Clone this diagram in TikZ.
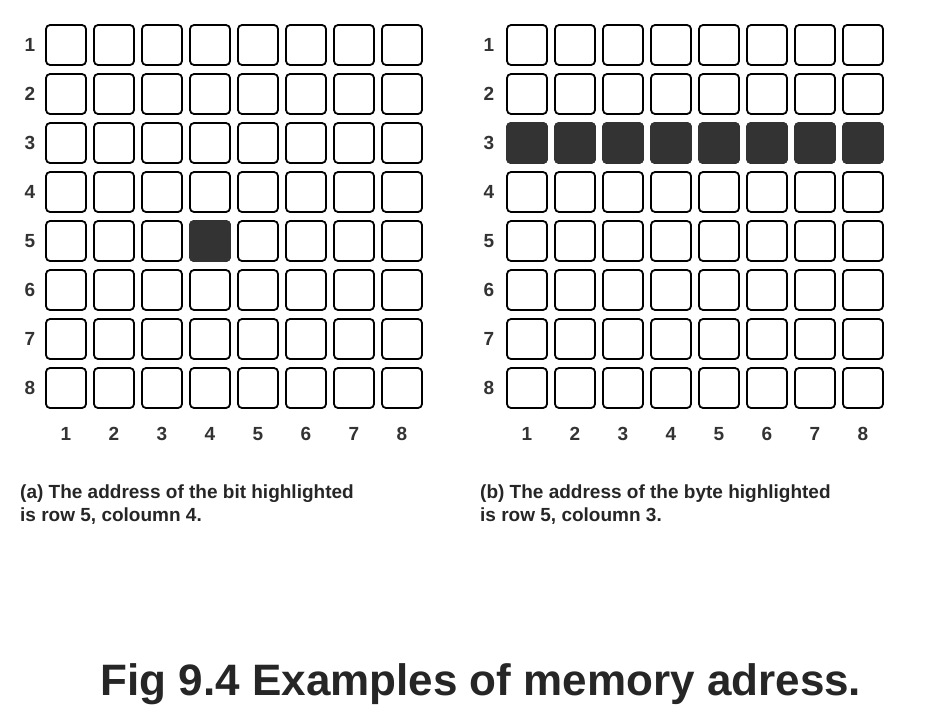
\documentclass[tikz,border=0pt]{standalone}
\usepackage{fontspec}
\setmainfont{Liberation Sans}
\usetikzlibrary{positioning}

\begin{document}
\begin{tikzpicture}[x=1pt,y=-1pt]
    \tikzstyle{cell} = [rectangle, draw=black, line width=1.8pt, rounded corners=4pt, fill=white, inner sep=0pt, minimum width=40pt, minimum height=40pt]
    \tikzstyle{bitset} = [cell, fill=black!80, draw=black!80]
    \tikzstyle{idx} = [inner sep=0pt, font=\fontsize{19}{19}\selectfont\bfseries, text=black!80]
    \tikzstyle{captext} = [inner sep=0pt, anchor=north west, align=left, font=\fontsize{19}{23}\selectfont\bfseries, text=black!85]

    \useasboundingbox[fill=white] (0,0) rectangle (943,720);

    % Left grid (bit)
    \foreach \r in {1,...,8} \foreach \c in {1,...,8} {
        \node[cell] (L\r\c) at (18+48*\c, -4+49*\r) {};
    }
    \node[bitset] at (L54) {};
    \foreach \r in {1,...,8} \node[idx] (LR\r) at (30, -4+49*\r) {\r};
    \foreach \c in {1,...,8} \node[idx] (LC\c) at (18+48*\c, 434) {\c};

    % Right grid (byte)
    \foreach \r in {1,...,8} \foreach \c in {1,...,8} {
        \node[cell] (R\r\c) at (479+48*\c, -4+49*\r) {};
    }
    \foreach \c in {1,...,8} \node[bitset] at (R3\c) {};
    \foreach \r in {1,...,8} \node[idx] (RR\r) at (489, -4+49*\r) {\r};
    \foreach \c in {1,...,8} \node[idx] (RC\c) at (479+48*\c, 434) {\c};

    % Captions
    \node[captext] (capA) at (20, 485) {(a) The address of the bit highlighted\\is row 5, coloumn 4.};
    \node[captext] (capB) at (480, 485) {(b) The address of the byte highlighted\\is row 5, coloumn 3.};

    % Title
    \node[inner sep=0pt, font=\fontsize{44}{44}\selectfont\bfseries, text=black!85] (title) at (481, 684) {Fig 9.4 Examples of memory adress.};
\end{tikzpicture}
\end{document}
